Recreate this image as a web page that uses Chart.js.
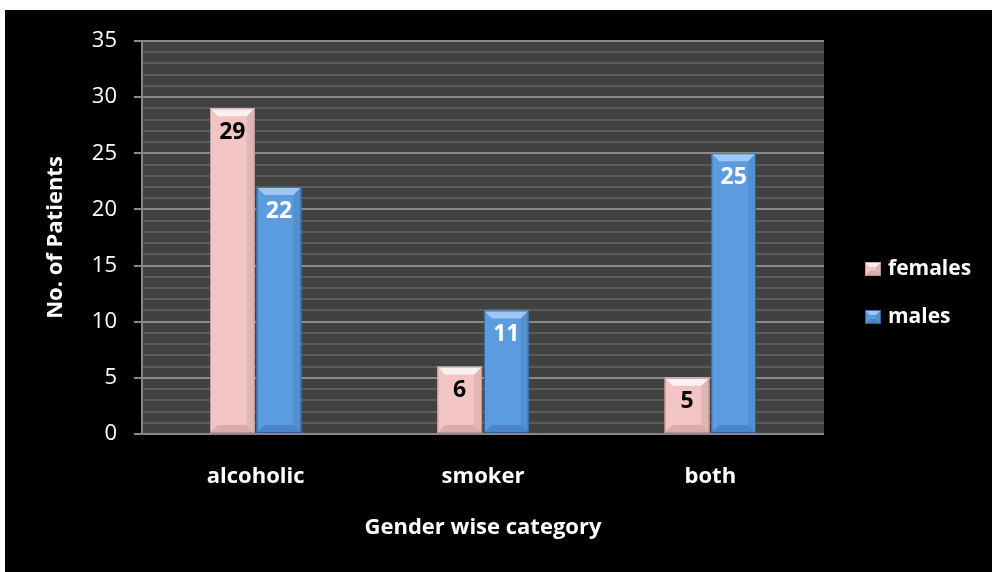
<!DOCTYPE html>
<html>
<head>
<meta charset="utf-8">
<title>Gender wise category</title>
<script src="https://cdn.jsdelivr.net/npm/chart.js@4"></script>
<style>
  html, body { margin: 0; padding: 0; background: #fff; }
  #wrap { position: absolute; left: 5px; top: 10px; width: 987px; height: 562px; background: #000; }
</style>
</head>
<body>
<div id="wrap"><canvas id="patientsChart" width="987" height="562"></canvas></div>
<script>
// categories and counts per gender
var categories = ['alcoholic', 'smoker', 'both'];
var females = [29, 6, 5];
var males = [22, 11, 25];
var yTicks = [0, 5, 10, 15, 20, 25, 30, 35];

var FONT = "'Open Sans', 'DejaVu Sans', sans-serif";
var PINK = '#f2c4c4';
var BLUE = '#5b9be0';

// bevel look for a box
function bevel(ctx, l, t, r, b, base, light, dark, edge, size) {
    var s = Math.min(size, (r - l) / 2, (b - t) / 2);
    ctx.save();
    ctx.fillStyle = base;
    ctx.fillRect(l, t, r - l, b - t);
    ctx.fillStyle = light;
    ctx.beginPath();
    ctx.moveTo(l, t); ctx.lineTo(r, t); ctx.lineTo(r - s, t + s); ctx.lineTo(l + s, t + s);
    ctx.closePath(); ctx.fill();
    ctx.fillStyle = dark;
    ctx.beginPath();
    ctx.moveTo(l, b); ctx.lineTo(r, b); ctx.lineTo(r - s, b - s); ctx.lineTo(l + s, b - s);
    ctx.closePath(); ctx.fill();
    ctx.fillStyle = 'rgba(0,0,0,0.07)';
    ctx.beginPath();
    ctx.moveTo(r, t); ctx.lineTo(r, b); ctx.lineTo(r - s, b - s); ctx.lineTo(r - s, t + s);
    ctx.closePath(); ctx.fill();
    ctx.strokeStyle = edge;
    ctx.lineWidth = 1;
    ctx.strokeRect(l + 0.5, t + 0.5, r - l - 1, b - t - 1);
    ctx.restore();
}

var styles = [
    { base: PINK, light: 'rgba(255,255,255,0.75)', dark: 'rgba(190,140,140,0.45)', edge: 'rgba(170,120,120,0.6)', label: '#000' },
    { base: BLUE, light: 'rgba(180,215,250,0.75)', dark: 'rgba(40,90,160,0.35)', edge: 'rgba(40,85,150,0.8)', label: '#fff' }
];

var plotArea = {
    id: 'plotArea',
    beforeDraw: function (chart) {
        var a = chart.chartArea, ctx = chart.ctx;
        ctx.save();
        ctx.fillStyle = '#414141';
        ctx.fillRect(a.left, a.top, a.right - a.left, a.bottom - a.top);
        ctx.restore();
    }
};

var barDecor = {
    id: 'barDecor',
    afterDatasetsDraw: function (chart) {
        var ctx = chart.ctx;
        chart.data.datasets.forEach(function (ds, i) {
            var st = styles[i];
            chart.getDatasetMeta(i).data.forEach(function (bar, j) {
                var w = bar.width;
                bevel(ctx, bar.x - w / 2, bar.y, bar.x + w / 2, bar.base,
                      st.base, st.light, st.dark, st.edge, 8);
                ctx.save();
                ctx.fillStyle = st.label;
                ctx.font = 'bold 23px ' + FONT;
                ctx.textAlign = 'center';
                ctx.textBaseline = 'middle';
                ctx.fillText(ds.data[j], bar.x, bar.y + 24);
                ctx.restore();
            });
        });

        // legend on the right
        var a = chart.chartArea;
        chart.data.datasets.forEach(function (ds, i) {
            var st = styles[i];
            var cy = 259 + i * 48;
            var lx = a.right + 41;
            bevel(ctx, lx, cy - 7, lx + 16, cy + 7, st.base, st.light, st.dark, st.edge, 5);
            ctx.save();
            ctx.fillStyle = '#fff';
            ctx.font = 'bold 21px ' + FONT;
            ctx.textAlign = 'left';
            ctx.textBaseline = 'middle';
            ctx.fillText(ds.label, lx + 23, cy);
            ctx.restore();
        });
    }
};

var ctx = document.getElementById('patientsChart').getContext('2d');
var patientsChart = new Chart(ctx, {
    type: 'bar',
    data: {
        labels: categories,
        datasets: [
            { label: 'females', data: females, backgroundColor: PINK },
            { label: 'males', data: males, backgroundColor: BLUE }
        ]
    },
    options: {
        responsive: false,
        animation: false,
        layout: { padding: { top: 31, right: 168, left: 0, bottom: 0 } },
        datasets: {
            bar: { categoryPercentage: 0.41, barPercentage: 0.96 }
        },
        scales: {
            x: {
                grid: { display: false },
                border: { display: false },
                ticks: { color: '#fff', font: { family: FONT, size: 22, weight: 'bold' }, padding: 22 },
                title: {
                    display: true,
                    text: 'Gender wise category',
                    color: '#fff',
                    font: { family: FONT, size: 22, weight: 'bold' },
                    padding: { top: 31, bottom: 31 }
                },
                afterFit: function (s) { s.height = 138; }
            },
            y: {
                min: 0,
                max: 35,
                border: { display: true, color: '#858585', width: 2 },
                grid: {
                    color: function (c) { return c.tick && yTicks.indexOf(c.tick.value) >= 0 ? '#8a8a8a' : '#5c5c5c'; },
                    lineWidth: 2,
                    tickLength: 8,
                    tickColor: function (c) { return c.tick && yTicks.indexOf(c.tick.value) >= 0 ? '#8a8a8a' : 'rgba(0,0,0,0)'; }
                },
                ticks: {
                    stepSize: 1,
                    autoSkip: false,
                    color: '#fff',
                    padding: 17,
                    font: { family: FONT, size: 22 },
                    callback: function (v) { return yTicks.indexOf(v) >= 0 ? v : ''; }
                },
                title: {
                    display: true,
                    text: 'No. of Patients',
                    color: '#fff',
                    font: { family: FONT, size: 22, weight: 'bold' },
                    padding: { top: 38, bottom: 38 }
                },
                afterFit: function (s) { s.width = 137; }
            }
        },
        plugins: {
            legend: { display: false },
            tooltip: { enabled: false }
        }
    },
    plugins: [plotArea, barDecor]
});
</script>
</body>
</html>
